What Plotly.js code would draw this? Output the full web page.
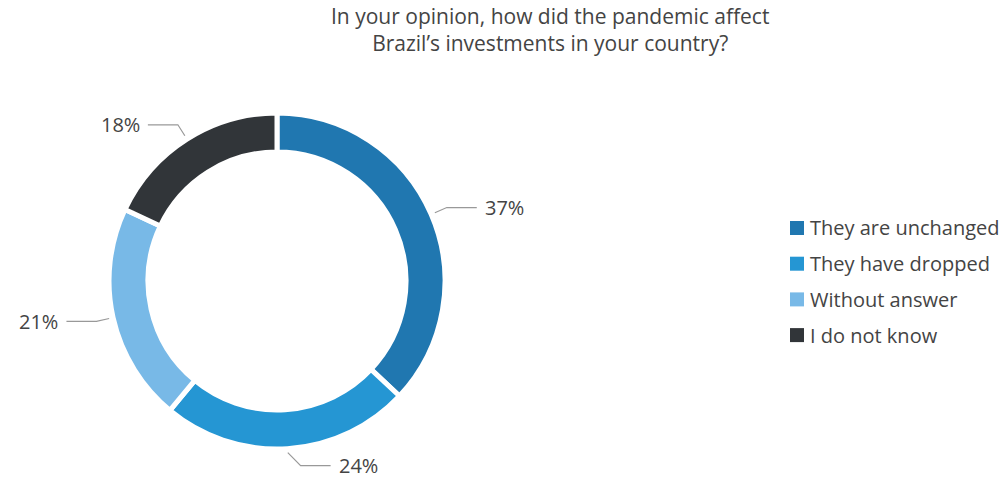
<!DOCTYPE html>
<html><head><meta charset="utf-8">
<script src="https://cdn.plot.ly/plotly-3.0.1.min.js"></script>
<style>html,body{margin:0;padding:0;background:#fff}#chart{width:1006px;height:479px}</style>
</head><body><div id="chart"></div>
<script>
const categories = ["They are unchanged", "They have dropped", "Without answer", "I do not know"];
const values = [37, 24, 21, 18];
const colors = ["#2077b0", "#2596d3", "#78b9e7", "#313539"];
const titleLines = ["In your opinion, how did the pandemic affect", "Brazil’s investments in your country?"];

const W = 1006, H = 479;
const cx = 277, cy = 281, R = 168;
const FONT = "Open Sans, Noto Sans, sans-serif";
const TXT = "#444";

const px2x = p => p / W;
const py2y = p => 1 - p / H;

const total = values.reduce((a, b) => a + b, 0);
const shapes = [], annotations = [];
let cum = 0;
values.forEach((v, i) => {
  const mid = (cum + v / 2) / total * 2 * Math.PI;
  cum += v;
  const s = Math.sin(mid), c = Math.cos(mid);
  const x0 = cx + 172 * s, y0 = cy - 172 * c;
  let x1 = cx + 185 * s, y1 = cy - 185 * c;
  const dir = s >= 0 ? 1 : -1;
  if (Math.abs(s) < 0.3) x1 += dir * 12;
  const x2 = x1 + dir * 30;
  shapes.push({type: "path", xref: "paper", yref: "paper",
    path: `M${px2x(x0)},${py2y(y0)} L${px2x(x1)},${py2y(y1)} L${px2x(x2)},${py2y(y1)}`,
    line: {color: "#999", width: 1.2}});
  annotations.push({xref: "paper", yref: "paper", x: px2x(x2 + dir * 6), y: py2y(y1),
    xanchor: dir > 0 ? "left" : "right", yanchor: "middle", showarrow: false,
    text: Math.round(v / total * 100) + "%", font: {family: FONT, size: 20, color: TXT}});
});

// custom legend
categories.forEach((cat, i) => {
  const yc = 228 + i * 35.7;
  shapes.push({type: "rect", xref: "paper", yref: "paper",
    x0: px2x(790), x1: px2x(804), y0: py2y(yc - 7), y1: py2y(yc + 7),
    fillcolor: colors[i], line: {width: 0}});
  annotations.push({xref: "paper", yref: "paper", x: px2x(808), y: py2y(yc),
    xanchor: "left", yanchor: "middle", showarrow: false, text: cat,
    font: {family: FONT, size: 20, color: TXT}});
});

// title (single text block, two lines)
annotations.push({xref: "paper", yref: "paper", x: px2x(550), y: py2y(30),
  xanchor: "center", yanchor: "middle", showarrow: false, text: titleLines.join("<br>"),
  font: {family: FONT, size: 21, color: TXT}});

const data = [{
  type: "pie", labels: categories, values: values, sort: false, direction: "clockwise",
  rotation: 0, hole: 129 / 168, textinfo: "none", hoverinfo: "label+percent",
  marker: {colors: colors, line: {color: "#fff", width: 5}},
  domain: {x: [(cx - R) / W, (cx + R) / W], y: [(H - cy - R) / H, (H - cy + R) / H]},
  showlegend: false
}];

const layout = {
  width: W, height: H, margin: {l: 0, r: 0, t: 0, b: 0},
  paper_bgcolor: "#fff", plot_bgcolor: "#fff",
  shapes: shapes, annotations: annotations, showlegend: false
};
Plotly.newPlot("chart", data, layout, {displayModeBar: false, staticPlot: true});
</script></body></html>
